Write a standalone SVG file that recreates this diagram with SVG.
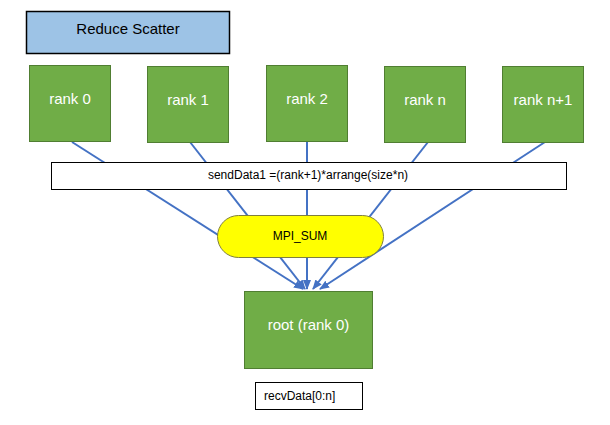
<svg xmlns="http://www.w3.org/2000/svg" width="610" height="425" viewBox="0 0 610 425">
<style>
text{font-family:"Liberation Sans",Arial,sans-serif}
.rank{fill:#70AD47;stroke:#507E32;stroke-width:1}
.wt{fill:#FFFFFF;font-size:15px;text-anchor:middle}
.bx{fill:#FFFFFF;stroke:#000000;stroke-width:1}
.conn{stroke:#4472C4;stroke-width:2;fill:none;marker-end:url(#ah)}
</style>
<defs>
<marker id="ah" markerUnits="userSpaceOnUse" markerWidth="10" markerHeight="10" viewBox="0 0 10 10" refX="9" refY="5" orient="auto">
<path d="M0,1 L10,5 L0,9 Z" fill="#4472C4"/>
</marker>
</defs>
<rect width="610" height="425" fill="#FFFFFF"/>
<g id="connectors">
<line class="conn" x1="72" y1="142" x2="303" y2="289"/>
<line class="conn" x1="190" y1="142" x2="305" y2="289"/>
<line class="conn" x1="307" y1="142" x2="307" y2="289"/>
<line class="conn" x1="428" y1="142" x2="313" y2="289"/>
<line class="conn" x1="545" y1="142" x2="320" y2="289"/>
</g>
<g id="title">
<rect x="26.5" y="11.5" width="203" height="42" fill="#9DC3E6" stroke="#000000" stroke-width="1.5"/>
<text x="128" y="34" font-size="15" text-anchor="middle" fill="#000000">Reduce Scatter</text>
</g>
<g id="rank0"><rect class="rank" x="29.5" y="65.5" width="81" height="76"/><text class="wt" x="70" y="104">rank 0</text></g>
<g id="rank1"><rect class="rank" x="147.5" y="66.5" width="81" height="76"/><text class="wt" x="188" y="105">rank 1</text></g>
<g id="rank2"><rect class="rank" x="266.5" y="65.5" width="81" height="76"/><text class="wt" x="307" y="104">rank 2</text></g>
<g id="rankn"><rect class="rank" x="384.5" y="66.5" width="81" height="76"/><text class="wt" x="425" y="105">rank n</text></g>
<g id="rankn1"><rect class="rank" x="502.5" y="66.5" width="81" height="76"/><text class="wt" x="543" y="105">rank n+1</text></g>
<g id="sendData">
<rect class="bx" x="51.5" y="162.5" width="515" height="27"/>
<text x="308" y="179" font-size="12" text-anchor="middle" fill="#000000">sendData1 =(rank+1)*arrange(size*n)</text>
</g>
<g id="mpisum">
<rect x="217.5" y="215.5" width="166" height="42" rx="21" ry="21" fill="#FFFF00" stroke="#7F7F3F" stroke-width="1"/>
<text x="300" y="240" font-size="12" text-anchor="middle" fill="#000000">MPI_SUM</text>
</g>
<g id="root">
<rect class="rank" x="244.5" y="291.5" width="128" height="77"/>
<text class="wt" x="308.5" y="330" font-size="15.5">root (rank 0)</text>
</g>
<g id="recvData">
<rect class="bx" x="255.5" y="382.5" width="107" height="27"/>
<text x="264" y="400" font-size="12" fill="#000000">recvData[0:n]</text>
</g>
</svg>
